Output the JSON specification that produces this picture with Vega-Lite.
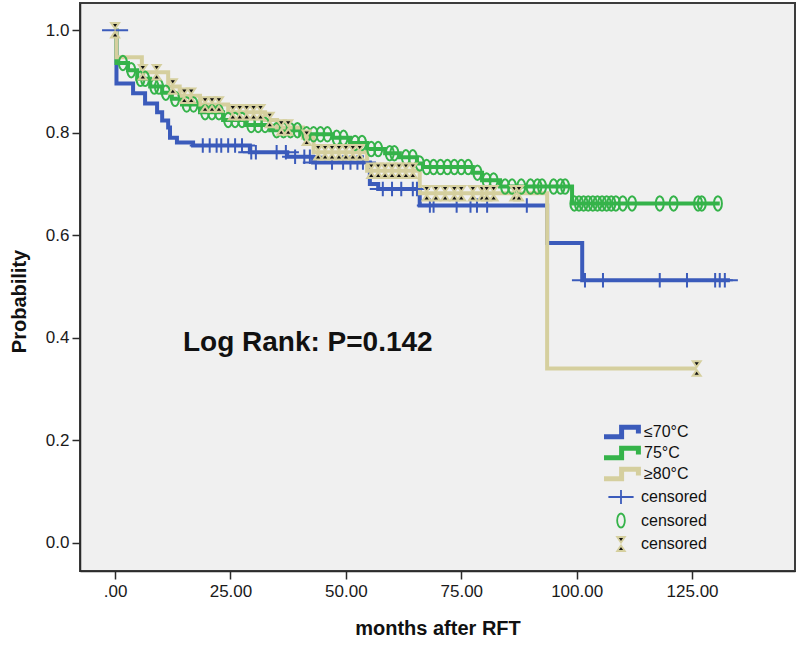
{
  "$schema": "https://vega.github.io/schema/vega-lite/v6.json",
  "width": 715,
  "height": 568,
  "autosize": {"type": "none"},
  "padding": {"left": 80, "top": 3, "right": 5, "bottom": 75},
  "background": "white",
  "config": {
    "font": "Liberation Sans",
    "view": {"fill": "#f0f0f0", "stroke": "#3c3c3c", "strokeWidth": 2},
    "axis": {
      "grid": false,
      "domainColor": "#2b2b2b",
      "domainWidth": 1.5,
      "tickColor": "#2b2b2b",
      "tickWidth": 1.5,
      "tickSize": 8,
      "labelFont": "Liberation Sans",
      "labelFontSize": 17,
      "labelColor": "#1a1a1a",
      "titleFont": "Liberation Sans",
      "titleFontSize": 20,
      "titleFontWeight": "bold",
      "titleColor": "#111111"
    },
    "legend": {
      "labelFont": "Liberation Sans",
      "labelFontSize": 16,
      "labelColor": "#111111",
      "padding": 0
    }
  },
  "datasets": {
    "surv": [
      {"g": "≤70°C", "t": 0, "s": 1.0},
      {"g": "≤70°C", "t": 0.3, "s": 0.896},
      {"g": "≤70°C", "t": 3.9, "s": 0.877},
      {"g": "≤70°C", "t": 6.5, "s": 0.857},
      {"g": "≤70°C", "t": 9.1, "s": 0.84},
      {"g": "≤70°C", "t": 10.2, "s": 0.824},
      {"g": "≤70°C", "t": 11.5, "s": 0.81},
      {"g": "≤70°C", "t": 11.9, "s": 0.79},
      {"g": "≤70°C", "t": 13.4, "s": 0.781},
      {"g": "≤70°C", "t": 16.9, "s": 0.775},
      {"g": "≤70°C", "t": 29.2, "s": 0.762},
      {"g": "≤70°C", "t": 37.3, "s": 0.753},
      {"g": "≤70°C", "t": 42.9, "s": 0.742},
      {"g": "≤70°C", "t": 55.2, "s": 0.70},
      {"g": "≤70°C", "t": 57, "s": 0.69},
      {"g": "≤70°C", "t": 66, "s": 0.658},
      {"g": "≤70°C", "t": 93.6, "s": 0.585},
      {"g": "≤70°C", "t": 101.2, "s": 0.512},
      {"g": "≤70°C", "t": 133.2, "s": 0.512},
      {"g": "75°C", "t": 0, "s": 1.0},
      {"g": "75°C", "t": 0.3, "s": 0.936},
      {"g": "75°C", "t": 2.8, "s": 0.922},
      {"g": "75°C", "t": 4.8, "s": 0.905},
      {"g": "75°C", "t": 7.6, "s": 0.89},
      {"g": "75°C", "t": 10.2, "s": 0.878},
      {"g": "75°C", "t": 12.3, "s": 0.866},
      {"g": "75°C", "t": 14.5, "s": 0.855},
      {"g": "75°C", "t": 18.4, "s": 0.84},
      {"g": "75°C", "t": 23.4, "s": 0.825},
      {"g": "75°C", "t": 28.2, "s": 0.815},
      {"g": "75°C", "t": 33.6, "s": 0.805},
      {"g": "75°C", "t": 40.1, "s": 0.797},
      {"g": "75°C", "t": 47.2, "s": 0.79},
      {"g": "75°C", "t": 50.9, "s": 0.78},
      {"g": "75°C", "t": 54.6, "s": 0.768},
      {"g": "75°C", "t": 58.5, "s": 0.76},
      {"g": "75°C", "t": 61.7, "s": 0.752},
      {"g": "75°C", "t": 65.4, "s": 0.74},
      {"g": "75°C", "t": 66.7, "s": 0.733},
      {"g": "75°C", "t": 77.5, "s": 0.722},
      {"g": "75°C", "t": 79.5, "s": 0.707},
      {"g": "75°C", "t": 83.4, "s": 0.695},
      {"g": "75°C", "t": 99, "s": 0.662},
      {"g": "75°C", "t": 131, "s": 0.662},
      {"g": "≥80°C", "t": 0, "s": 1.0},
      {"g": "≥80°C", "t": 0.3, "s": 0.947},
      {"g": "≥80°C", "t": 5.8, "s": 0.918},
      {"g": "≥80°C", "t": 11.5, "s": 0.89},
      {"g": "≥80°C", "t": 14, "s": 0.872},
      {"g": "≥80°C", "t": 18.4, "s": 0.855},
      {"g": "≥80°C", "t": 24.5, "s": 0.84},
      {"g": "≥80°C", "t": 32.5, "s": 0.825},
      {"g": "≥80°C", "t": 35.1, "s": 0.81},
      {"g": "≥80°C", "t": 40.7, "s": 0.79},
      {"g": "≥80°C", "t": 43, "s": 0.762},
      {"g": "≥80°C", "t": 54.6, "s": 0.726},
      {"g": "≥80°C", "t": 66, "s": 0.682},
      {"g": "≥80°C", "t": 93.6, "s": 0.34},
      {"g": "≥80°C", "t": 126, "s": 0.34}
    ],
    "cens": [
      {"c": "c70", "t": 0, "s": 1.0},
      {"c": "c70", "t": 19, "s": 0.775},
      {"c": "c70", "t": 20.5, "s": 0.775},
      {"c": "c70", "t": 22, "s": 0.775},
      {"c": "c70", "t": 23, "s": 0.775},
      {"c": "c70", "t": 24.5, "s": 0.775},
      {"c": "c70", "t": 26, "s": 0.775},
      {"c": "c70", "t": 27.5, "s": 0.775},
      {"c": "c70", "t": 29.5, "s": 0.762},
      {"c": "c70", "t": 30.5, "s": 0.762},
      {"c": "c70", "t": 35, "s": 0.762},
      {"c": "c70", "t": 37, "s": 0.762},
      {"c": "c70", "t": 39, "s": 0.753},
      {"c": "c70", "t": 41, "s": 0.753},
      {"c": "c70", "t": 42.2, "s": 0.753},
      {"c": "c70", "t": 43.5, "s": 0.742},
      {"c": "c70", "t": 47, "s": 0.742},
      {"c": "c70", "t": 49.4, "s": 0.742},
      {"c": "c70", "t": 51, "s": 0.742},
      {"c": "c70", "t": 52.5, "s": 0.742},
      {"c": "c70", "t": 53.7, "s": 0.742},
      {"c": "c70", "t": 58, "s": 0.69},
      {"c": "c70", "t": 60, "s": 0.69},
      {"c": "c70", "t": 62, "s": 0.69},
      {"c": "c70", "t": 64.5, "s": 0.69},
      {"c": "c70", "t": 65.4, "s": 0.69},
      {"c": "c70", "t": 68.2, "s": 0.658},
      {"c": "c70", "t": 69, "s": 0.658},
      {"c": "c70", "t": 74, "s": 0.658},
      {"c": "c70", "t": 77, "s": 0.658},
      {"c": "c70", "t": 78.4, "s": 0.658},
      {"c": "c70", "t": 80.6, "s": 0.658},
      {"c": "c70", "t": 89.2, "s": 0.658},
      {"c": "c70", "t": 101.8, "s": 0.512},
      {"c": "c70", "t": 105.7, "s": 0.512},
      {"c": "c70", "t": 118, "s": 0.512},
      {"c": "c70", "t": 123.9, "s": 0.512},
      {"c": "c70", "t": 130, "s": 0.512},
      {"c": "c70", "t": 131, "s": 0.512},
      {"c": "c70", "t": 132.1, "s": 0.512},
      {"c": "c75", "t": 1.7, "s": 0.936},
      {"c": "c75", "t": 3.5, "s": 0.922},
      {"c": "c75", "t": 5.5, "s": 0.905},
      {"c": "c75", "t": 6.5, "s": 0.905},
      {"c": "c75", "t": 8.5, "s": 0.89},
      {"c": "c75", "t": 9.5, "s": 0.89},
      {"c": "c75", "t": 11, "s": 0.878},
      {"c": "c75", "t": 13, "s": 0.866},
      {"c": "c75", "t": 15.5, "s": 0.855},
      {"c": "c75", "t": 17, "s": 0.855},
      {"c": "c75", "t": 19.5, "s": 0.84},
      {"c": "c75", "t": 21, "s": 0.84},
      {"c": "c75", "t": 22.5, "s": 0.84},
      {"c": "c75", "t": 24.5, "s": 0.825},
      {"c": "c75", "t": 26, "s": 0.825},
      {"c": "c75", "t": 27.5, "s": 0.825},
      {"c": "c75", "t": 29.5, "s": 0.815},
      {"c": "c75", "t": 31, "s": 0.815},
      {"c": "c75", "t": 32.5, "s": 0.815},
      {"c": "c75", "t": 35, "s": 0.805},
      {"c": "c75", "t": 36.5, "s": 0.805},
      {"c": "c75", "t": 38, "s": 0.805},
      {"c": "c75", "t": 39.5, "s": 0.805},
      {"c": "c75", "t": 41.5, "s": 0.797},
      {"c": "c75", "t": 43, "s": 0.797},
      {"c": "c75", "t": 44.5, "s": 0.797},
      {"c": "c75", "t": 46, "s": 0.797},
      {"c": "c75", "t": 48, "s": 0.79},
      {"c": "c75", "t": 49.5, "s": 0.79},
      {"c": "c75", "t": 52, "s": 0.78},
      {"c": "c75", "t": 53.5, "s": 0.78},
      {"c": "c75", "t": 55.5, "s": 0.768},
      {"c": "c75", "t": 57, "s": 0.768},
      {"c": "c75", "t": 59.5, "s": 0.76},
      {"c": "c75", "t": 60.5, "s": 0.76},
      {"c": "c75", "t": 63, "s": 0.752},
      {"c": "c75", "t": 64.5, "s": 0.752},
      {"c": "c75", "t": 66, "s": 0.74},
      {"c": "c75", "t": 67.5, "s": 0.733},
      {"c": "c75", "t": 69, "s": 0.733},
      {"c": "c75", "t": 70.5, "s": 0.733},
      {"c": "c75", "t": 72, "s": 0.733},
      {"c": "c75", "t": 73.5, "s": 0.733},
      {"c": "c75", "t": 75, "s": 0.733},
      {"c": "c75", "t": 76.5, "s": 0.733},
      {"c": "c75", "t": 78.5, "s": 0.722},
      {"c": "c75", "t": 80.5, "s": 0.707},
      {"c": "c75", "t": 82, "s": 0.707},
      {"c": "c75", "t": 84.5, "s": 0.695},
      {"c": "c75", "t": 86, "s": 0.695},
      {"c": "c75", "t": 88, "s": 0.695},
      {"c": "c75", "t": 90, "s": 0.695},
      {"c": "c75", "t": 91.5, "s": 0.695},
      {"c": "c75", "t": 92.5, "s": 0.695},
      {"c": "c75", "t": 95, "s": 0.695},
      {"c": "c75", "t": 96.5, "s": 0.695},
      {"c": "c75", "t": 97.5, "s": 0.695},
      {"c": "c75", "t": 99.5, "s": 0.662},
      {"c": "c75", "t": 100.5, "s": 0.662},
      {"c": "c75", "t": 101.5, "s": 0.662},
      {"c": "c75", "t": 102.5, "s": 0.662},
      {"c": "c75", "t": 103.5, "s": 0.662},
      {"c": "c75", "t": 104.5, "s": 0.662},
      {"c": "c75", "t": 105.5, "s": 0.662},
      {"c": "c75", "t": 106.5, "s": 0.662},
      {"c": "c75", "t": 107.5, "s": 0.662},
      {"c": "c75", "t": 108.5, "s": 0.662},
      {"c": "c75", "t": 110, "s": 0.662},
      {"c": "c75", "t": 112, "s": 0.662},
      {"c": "c75", "t": 118, "s": 0.662},
      {"c": "c75", "t": 121, "s": 0.662},
      {"c": "c75", "t": 126.3, "s": 0.662},
      {"c": "c75", "t": 127.1, "s": 0.662},
      {"c": "c75", "t": 130.6, "s": 0.662},
      {"c": "c80", "t": 0, "s": 1.0},
      {"c": "c80", "t": 6, "s": 0.918},
      {"c": "c80", "t": 9, "s": 0.918},
      {"c": "c80", "t": 12.5, "s": 0.89},
      {"c": "c80", "t": 15, "s": 0.872},
      {"c": "c80", "t": 16.5, "s": 0.872},
      {"c": "c80", "t": 19.5, "s": 0.855},
      {"c": "c80", "t": 21, "s": 0.855},
      {"c": "c80", "t": 22.5, "s": 0.855},
      {"c": "c80", "t": 25.5, "s": 0.84},
      {"c": "c80", "t": 27, "s": 0.84},
      {"c": "c80", "t": 28.5, "s": 0.84},
      {"c": "c80", "t": 30, "s": 0.84},
      {"c": "c80", "t": 31.5, "s": 0.84},
      {"c": "c80", "t": 33.5, "s": 0.825},
      {"c": "c80", "t": 36, "s": 0.81},
      {"c": "c80", "t": 37.5, "s": 0.81},
      {"c": "c80", "t": 41.5, "s": 0.79},
      {"c": "c80", "t": 44, "s": 0.762},
      {"c": "c80", "t": 45.5, "s": 0.762},
      {"c": "c80", "t": 47, "s": 0.762},
      {"c": "c80", "t": 48.5, "s": 0.762},
      {"c": "c80", "t": 50, "s": 0.762},
      {"c": "c80", "t": 51.5, "s": 0.762},
      {"c": "c80", "t": 53, "s": 0.762},
      {"c": "c80", "t": 55.5, "s": 0.726},
      {"c": "c80", "t": 57, "s": 0.726},
      {"c": "c80", "t": 58.5, "s": 0.726},
      {"c": "c80", "t": 60, "s": 0.726},
      {"c": "c80", "t": 61.5, "s": 0.726},
      {"c": "c80", "t": 63, "s": 0.726},
      {"c": "c80", "t": 64.5, "s": 0.726},
      {"c": "c80", "t": 67.5, "s": 0.682},
      {"c": "c80", "t": 69.5, "s": 0.682},
      {"c": "c80", "t": 71.5, "s": 0.682},
      {"c": "c80", "t": 73.5, "s": 0.682},
      {"c": "c80", "t": 75, "s": 0.682},
      {"c": "c80", "t": 77.5, "s": 0.682},
      {"c": "c80", "t": 79.5, "s": 0.682},
      {"c": "c80", "t": 80.5, "s": 0.682},
      {"c": "c80", "t": 82, "s": 0.682},
      {"c": "c80", "t": 86.5, "s": 0.682},
      {"c": "c80", "t": 87.5, "s": 0.682},
      {"c": "c80", "t": 126, "s": 0.34}
    ]
  },
  "encoding": {
    "x": {
      "field": "t",
      "type": "quantitative",
      "scale": {"domain": [-7.6, 147.3], "nice": false, "zero": false},
      "axis": {
        "values": [0, 25, 50, 75, 100, 125],
        "labelExpr": "datum.value == 0 ? '.00' : format(datum.value, '.2f')",
        "title": "months after RFT",
        "labelPadding": 4,
        "titlePadding": 19
      }
    },
    "y": {
      "field": "s",
      "type": "quantitative",
      "scale": {"domain": [-0.055, 1.053], "nice": false, "zero": false},
      "axis": {
        "values": [0, 0.2, 0.4, 0.6, 0.8, 1.0],
        "format": ".1f",
        "title": "Probability",
        "labelPadding": 3,
        "titlePadding": 16,
        "titleY": 298
      }
    }
  },
  "layer": [
    {
      "data": {"name": "surv"},
      "mark": {"type": "line", "interpolate": "step-after", "strokeWidth": 4},
      "encoding": {
        "color": {
          "field": "g",
          "type": "nominal",
          "scale": {"domain": ["≤70°C", "75°C", "≥80°C"], "range": ["#3b5bbb", "#35b34a", "#d5cf9e"]},
          "legend": {
            "title": null,
            "orient": "none",
            "legendX": 520,
            "legendY": 421,
            "symbolType": "M-1,1.2L3.4,1.2L3.4,-1.2L7.6,-1.2L7.6,0.4",
            "symbolStrokeWidth": 5,
            "symbolSize": 64,
            "labelOffset": 28,
            "clipHeight": 16,
            "rowPadding": 5
          }
        }
      }
    },
    {
      "data": {"name": "cens"},
      "mark": {"type": "point", "size": 210, "strokeWidth": 2, "opacity": 1},
      "encoding": {
        "shape": {
          "field": "c",
          "type": "nominal",
          "scale": {
            "domain": ["c70", "c75", "c80"],
            "range": [
              "M0,-1L0,1M-1.8,0L1.8,0",
              "M0,-1A0.55,1,0,1,1,0,1A0.55,1,0,1,1,0,-1Z",
              "M-0.55,-1L0.55,-1L0,-0.2ZM-0.55,1L0.55,1L0,0.2Z"
            ]
          },
          "legend": {
            "title": null,
            "orient": "none",
            "legendX": 533,
            "legendY": 486,
            "labelExpr": "'censored'",
            "symbolSize": 196,
            "symbolStrokeWidth": 1.8,
            "labelOffset": 12,
            "rowPadding": 1.5
          }
        },
        "stroke": {
          "field": "c",
          "type": "nominal",
          "scale": {"domain": ["c70", "c75", "c80"], "range": ["#3b5bbb", "#35b34a", "#d5cf9e"]},
          "legend": {
            "title": null,
            "orient": "none",
            "legendX": 533,
            "legendY": 486,
            "labelExpr": "'censored'",
            "symbolSize": 196,
            "symbolStrokeWidth": 1.8,
            "labelOffset": 12,
            "rowPadding": 1.5
          }
        },
        "fill": {
          "field": "c",
          "type": "nominal",
          "scale": {"domain": ["c70", "c75", "c80"], "range": ["transparent", "transparent", "#111111"]},
          "legend": {
            "title": null,
            "orient": "none",
            "legendX": 533,
            "legendY": 486,
            "labelExpr": "'censored'",
            "symbolSize": 196,
            "symbolStrokeWidth": 1.8,
            "labelOffset": 12,
            "rowPadding": 1.5
          }
        }
      }
    },
    {
      "data": {"values": [{"t": 14.7, "s": 0.39, "label": "Log Rank: P=0.142"}]},
      "mark": {"type": "text", "align": "left", "baseline": "middle", "font": "Liberation Sans", "fontSize": 28, "fontWeight": "bold", "color": "#111111"},
      "encoding": {"text": {"field": "label"}}
    }
  ]
}
